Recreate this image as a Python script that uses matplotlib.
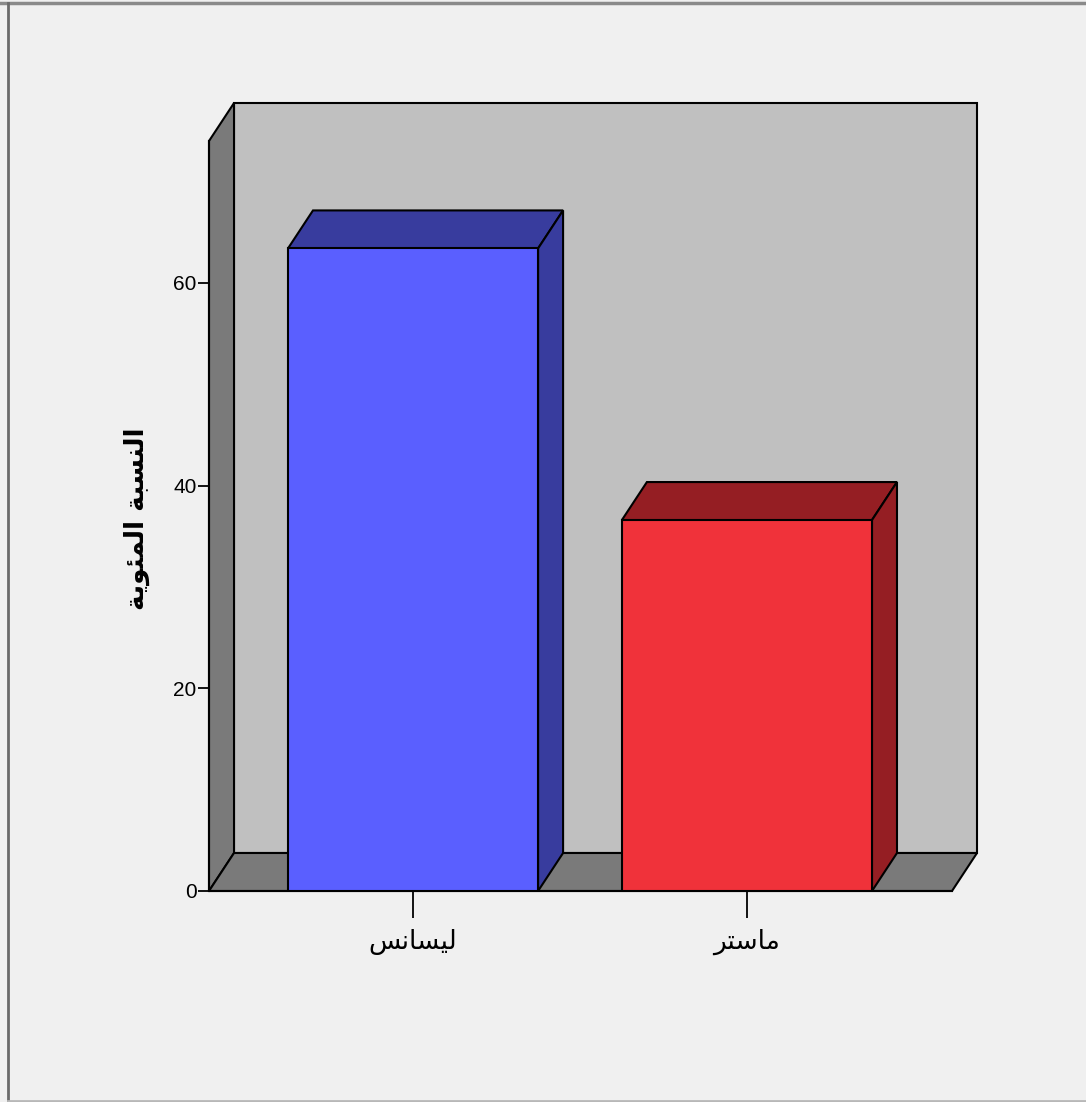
import matplotlib
matplotlib.use("Agg")
import matplotlib.pyplot as plt
from matplotlib.lines import Line2D

# categories (logical text) and the same text in shaped, visual order for drawing
categories = ["ليسانس", "ماستر"]
tick_labels = ["\uFEB2\uFEE7\uFE8E\uFEB4\uFEF4\uFEDF",
               "\uFEAE\uFE98\uFEB3\uFE8E\uFEE3"]
# "النسبة المئوية" shaped, visual order
y_label = ("\uFE94\uFEF3\uFEEE\uFE8C\uFEE4\uFEDF\uFE8D"
           " \uFE94\uFE92\uFEB4\uFEE8\uFEDF\uFE8D")
percent = [63.4, 36.6]
y_ticks = [0, 20, 40, 60]

front_colors = ["#5a5fff", "#f0323a"]
dark_colors = ["#383c9e", "#951e23"]

W, H = 1086, 1102
fig = plt.figure(figsize=(W / 100, H / 100), dpi=100)
fig.patch.set_facecolor("#f0f0f0")

# plot area in pixels
px_left, px_right, px_bottom, px_top = 209, 977, 891, 103
ax = fig.add_axes([px_left / W, 1 - px_bottom / H,
                   (px_right - px_left) / W, (px_bottom - px_top) / H])
ax.set_facecolor("none")

xmin, xmax = -0.611, 1.689
ymax = 77.75
ax.set_xlim(xmin, xmax)
ax.set_ylim(0, ymax)

dx = 0.0749   # depth in x units
dy = 3.75     # depth in y units
x_front_right = xmax - dx
y_front_top = ymax - dy
bar_w = 0.749
lw = 1.5

# back wall
ax.fill([xmin + dx, x_front_right + dx, x_front_right + dx, xmin + dx],
        [dy, dy, ymax, ymax], facecolor="#c0c0c0", edgecolor="black", lw=lw,
        zorder=1, clip_on=False)
# left wall
ax.fill([xmin, xmin + dx, xmin + dx, xmin],
        [0, dy, ymax, y_front_top], facecolor="#7a7a7a", edgecolor="black", lw=lw,
        zorder=1, clip_on=False)
# floor
ax.fill([xmin, x_front_right, x_front_right + dx, xmin + dx],
        [0, 0, dy, dy], facecolor="#7a7a7a", edgecolor="black", lw=lw,
        zorder=1, clip_on=False)

x = list(range(len(percent)))
for xi, v, fc, dc in zip(x, percent, front_colors, dark_colors):
    l, r = xi - bar_w / 2, xi + bar_w / 2
    ax.fill([l, l + dx, r + dx, r], [v, v + dy, v + dy, v],
            facecolor=dc, edgecolor="black", lw=lw, zorder=2)
    ax.fill([r, r, r + dx, r + dx], [0, v, v + dy, dy],
            facecolor=dc, edgecolor="black", lw=lw, zorder=2)
ax.bar(x, percent, width=bar_w, color=front_colors, edgecolor="black",
       linewidth=lw, zorder=3)

for s in ["top", "right"]:
    ax.spines[s].set_visible(False)
ax.spines["left"].set_bounds(0, y_front_top)
ax.spines["bottom"].set_bounds(xmin, x_front_right)
ax.spines["left"].set_linewidth(lw)
ax.spines["bottom"].set_linewidth(lw)

ax.set_yticks(y_ticks)
ax.set_yticklabels([str(t) for t in y_ticks], family="Liberation Sans", fontsize=15)
ax.tick_params(axis="y", direction="out", length=8, width=1.3, pad=1)
ax.set_xticks(x)
ax.set_xticklabels(tick_labels, family="DejaVu Sans", fontsize=19)
ax.tick_params(axis="x", direction="out", length=19.5, width=1.3, pad=8)

ax.set_ylabel(y_label, family="DejaVu Sans", fontsize=19, fontweight="bold")
ax.yaxis.set_label_coords(-0.094, 0.472)
ax.yaxis.label.set_va("center")

# outer frame
fig.add_artist(Line2D([0, 1], [1 - 3 / H, 1 - 3 / H], color="#8a8a8a", lw=2.5))
fig.add_artist(Line2D([8 / W, 8 / W], [0, 1 - 3 / H], color="#6a6a6a", lw=2))
fig.add_artist(Line2D([8 / W, 1], [1.5 / H, 1.5 / H], color="#b8b8b8", lw=2))

fig.savefig("out.png", dpi=100, facecolor=fig.get_facecolor())
